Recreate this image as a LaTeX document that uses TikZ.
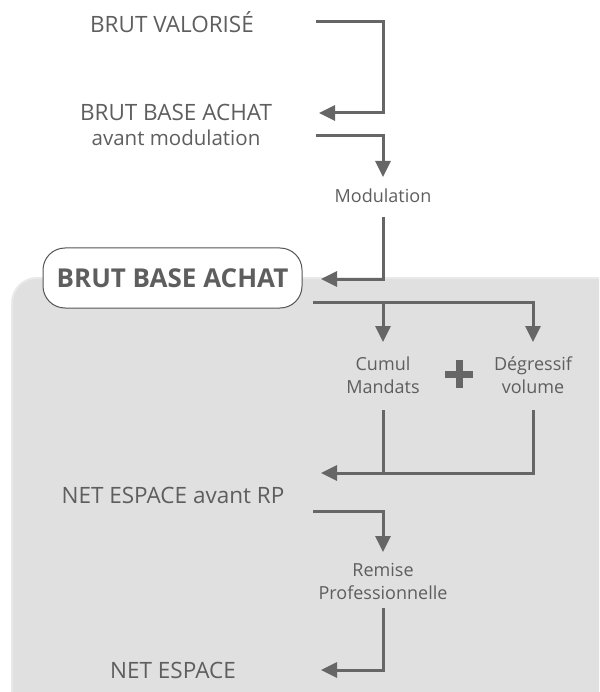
\documentclass[tikz,border=0pt]{standalone}
\usepackage{fontspec}
\setmainfont{Open Sans}
\usetikzlibrary{arrows.meta}
\definecolor{linec}{HTML}{666666}
\definecolor{textc}{HTML}{5E5E5E}
\definecolor{panel}{HTML}{E0E0E0}
\definecolor{paneledge}{HTML}{E9E9E9}
\definecolor{boxedge}{HTML}{555555}
\tikzset{
  biglabel/.style={text=textc, font=\fontsize{22.5}{25}\selectfont, align=center, inner sep=0pt},
  smalllabel/.style={text=textc, font=\fontsize{18}{23}\selectfont, align=center, inner sep=0pt},
  keybox/.style={draw=boxedge, line width=1pt, fill=white, rounded corners=22pt,
    minimum width=259pt, minimum height=60pt, text=textc, font=\fontsize{26}{28}\selectfont\bfseries},
  flow/.style={draw=linec, line width=3pt, line join=miter},
  flowarrow/.style={flow, -{Triangle[length=16pt,width=15pt]}},
}
\begin{document}
\begin{tikzpicture}[x=1pt,y=-1pt]
\useasboundingbox (0,0) rectangle (599,692);
% grey panel
\begin{scope}
\clip (0,0) rectangle (599,692);
\draw[fill=panel, draw=paneledge, line width=2pt, rounded corners=25pt] (12,278) rectangle (620,715);
\end{scope}

% labels
\node[biglabel] (bv) at (172,22) {BRUT VALORISÉ};
\node[biglabel] (bbam) at (176,124.5) {BRUT BASE ACHAT\\{\fontsize{20.5}{25}\selectfont avant modulation}};
\node[smalllabel] (mod) at (383,196) {Modulation};
\node[keybox] (bba) at (172.5,278) {BRUT BASE ACHAT};
\node[smalllabel] (cm) at (383,375.5) {Cumul\\Mandats};
\node[smalllabel] (dv) at (533,375.5) {Dégressif\\volume};
\coordinate (plus) at (459,374);
\node[biglabel] (nerp) at (173,495) {NET ESPACE avant RP};
\node[smalllabel] (rp) at (383,581) {Remise\\Professionnelle};
\node[biglabel] (ne) at (173,670) {NET ESPACE};

% plus sign
\draw[draw=linec, line width=7pt] ([xshift=-14pt]plus) -- ([xshift=14pt]plus);
\draw[draw=linec, line width=7pt] ([yshift=-14pt]plus) -- ([yshift=14pt]plus);

% connector end points
\coordinate (a1s) at (316,22);
\coordinate (a1c) at (383,22);
\coordinate (a1d) at (383,113);
\coordinate (a1e) at (319,113);
\coordinate (a2s) at (316,136);
\coordinate (a2c) at (383,136);
\coordinate (a2e) at (383,177);
\coordinate (a3s) at (383,217);
\coordinate (a3c) at (383,279);
\coordinate (a3e) at (321,279);
\coordinate (a4s) at (313,302);
\coordinate (a4m) at (383,302);
\coordinate (a4c) at (533,302);
\coordinate (a4e1) at (383,342);
\coordinate (a4e2) at (533,342);
\coordinate (a5s1) at (383,410);
\coordinate (a5j) at (383,473);
\coordinate (a5s2) at (533,410);
\coordinate (a5c) at (533,473);
\coordinate (a5e) at (321,473);
\coordinate (a6s) at (313,511);
\coordinate (a6c) at (383,511);
\coordinate (a6e) at (383,552);
\coordinate (a7s) at (383,608);
\coordinate (a7c) at (383,670);
\coordinate (a7e) at (321,670);

% connectors
\draw[flowarrow] (a1s) -- (a1c) -- (a1d) -- (a1e);
\draw[flowarrow] (a2s) -- (a2c) -- (a2e);
\draw[flowarrow] (a3s) -- (a3c) -- (a3e);
\draw[flowarrow] (a4s) -- (a4c) -- (a4e2);
\draw[flowarrow] (a4m) -- (a4e1);
\draw[flow] (a5s1) -- (a5j);
\draw[flowarrow] (a5s2) -- (a5c) -- (a5e);
\draw[flowarrow] (a6s) -- (a6c) -- (a6e);
\draw[flowarrow] (a7s) -- (a7c) -- (a7e);
\end{tikzpicture}
\end{document}
